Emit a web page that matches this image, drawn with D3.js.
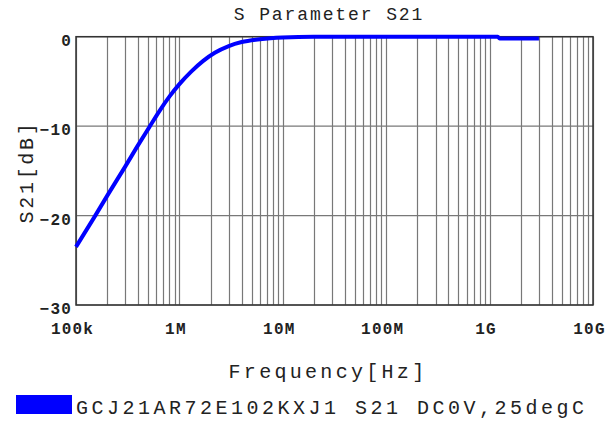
<!DOCTYPE html>
<html>
<head>
<meta charset="utf-8">
<script src="https://cdn.jsdelivr.net/npm/d3@7"></script>
<style>
  body { margin: 0; background: #fff; }
  text { font-family: "Liberation Mono", "DejaVu Sans Mono", monospace; fill: #222; }
</style>
</head>
<body>
<div id="chart"></div>
<script>
// S21
var freqs = [1e5, 1.5e5, 2e5, 3e5, 4e5, 5e5, 6.5e5, 8e5, 1e6, 1.3e6, 1.7e6, 2.2e6, 3e6, 4e6, 6e6, 1e7, 2e7, 1e8, 1.2e9, 1.25e9, 3e9];
var s21 = [-23.5, -20.2, -17.8, -14.5, -12.1, -10.3, -8.2, -6.7, -5.3, -3.9, -2.7, -1.8, -1.05, -0.6, -0.28, -0.08, 0, 0, 0, -0.2, -0.2];
var xTicks = [1e5, 1e6, 1e7, 1e8, 1e9, 1e10];
var xTickLabels = ["100k", "1M", "10M", "100M", "1G", "10G"];
var yTicks = [0, -10, -20, -30];
var seriesName = "GCJ21AR72E102KXJ1 S21 DC0V,25degC";

var svgwidth = 613, svgheight = 426;
var plotLeft = 76, plotRight = 593, plotTop = 36.7, plotBottom = 305;

var svg = d3.select("#chart").append("svg")
    .attr("width", svgwidth)
    .attr("height", svgheight);

var xScale = d3.scaleLog().domain([1e5, 1e10]).range([plotLeft, plotRight]);
var yScale = d3.scaleLinear().domain([-30, 0]).range([plotBottom, plotTop]);

// vertical grid (1..9 per decade)
svg.append("g")
    .selectAll("line").data(xScale.ticks()).enter().append("line")
    .attr("x1", function(d){ return Math.round(xScale(d)) + 0.5; })
    .attr("x2", function(d){ return Math.round(xScale(d)) + 0.5; })
    .attr("y1", plotTop).attr("y2", plotBottom)
    .style("stroke", "#787878").style("stroke-width", 1.2);

// horizontal grid
svg.append("g")
    .selectAll("line").data(yTicks).enter().append("line")
    .attr("x1", plotLeft).attr("x2", plotRight)
    .attr("y1", function(d){ return yScale(d); })
    .attr("y2", function(d){ return yScale(d); })
    .style("stroke", "#787878").style("stroke-width", 1.2);

// frame
svg.append("rect")
    .attr("x", plotLeft).attr("y", plotTop)
    .attr("width", plotRight - plotLeft).attr("height", plotBottom - plotTop)
    .style("fill", "none").style("stroke", "#333").style("stroke-width", 1.5);

// x tick labels
const xAxis = d3.axisBottom().scale(xScale)
    .tickValues(xTicks)
    .tickSize(0)
    .tickFormat(function(d, i){ return xTickLabels[i]; });
var gx = svg.append("g").call(xAxis)
    .attr("transform", "translate(0," + plotBottom + ")");
gx.select(".domain").remove();
gx.selectAll("text")
    .attr("y", 29).attr("dy", null).attr("dx", -4)
    .style("font-size", "16px").style("font-weight", "bold")
    .style("letter-spacing", "1.2px").style("fill", "#222")
    .style("font-family", "'Liberation Mono', monospace");

// y tick labels
const yAxis = d3.axisLeft().scale(yScale).tickValues(yTicks).tickSize(0);
var gy = svg.append("g").call(yAxis)
    .attr("transform", "translate(" + plotLeft + ",0)");
gy.select(".domain").remove();
gy.selectAll("text")
    .attr("x", -4).attr("dy", "0.55em")
    .style("font-size", "16px").style("font-weight", "bold")
    .style("letter-spacing", "1.2px").style("fill", "#222")
    .style("font-family", "'Liberation Mono', monospace");

// curve
var pts = freqs.map(function(f, i){ return [f, s21[i]]; });
var line = d3.line()
    .x(function(d){ return xScale(d[0]); })
    .y(function(d){ return yScale(d[1]); })
    .curve(d3.curveMonotoneX);
svg.append("path").datum(pts)
    .attr("d", line)
    .style("fill", "none").style("stroke", "#0000ff").style("stroke-width", 4);

// title
svg.append("text")
    .attr("x", 329).attr("y", 20)
    .attr("text-anchor", "middle")
    .style("font-size", "18px").style("letter-spacing", "1.9px")
    .text("S Parameter S21");

// axis titles
svg.append("text")
    .attr("x", 328).attr("y", 378)
    .attr("text-anchor", "middle")
    .style("font-size", "20px").style("letter-spacing", "3.3px")
    .text("Frequency[Hz]");

svg.append("text")
    .attr("transform", "translate(33,172) rotate(-90)")
    .attr("text-anchor", "middle")
    .style("font-size", "20px").style("letter-spacing", "2.7px")
    .text("S21[dB]");

// legend
svg.append("rect")
    .attr("x", 16).attr("y", 395)
    .attr("width", 56).attr("height", 19)
    .style("fill", "#0000ff");
svg.append("text")
    .attr("x", 76).attr("y", 414)
    .style("font-size", "20px").style("letter-spacing", "3.5px")
    .text(seriesName);
</script>
</body>
</html>
